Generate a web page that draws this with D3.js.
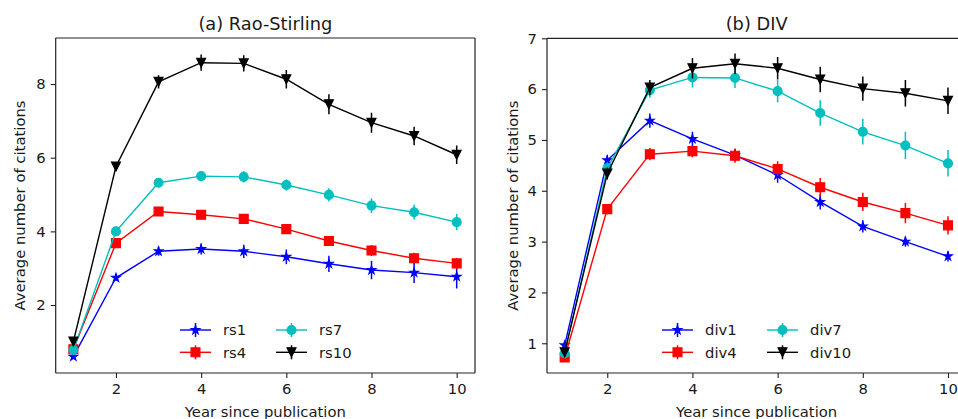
<!DOCTYPE html>
<html>
<head>
<meta charset="utf-8">
<script src="https://cdn.jsdelivr.net/npm/d3@7"></script>
<style>
  html, body { margin: 0; padding: 0; background: #fff; }
  svg { display: block; }
  text { font-family: "DejaVu Sans", sans-serif; fill: #1a1a1a; }
</style>
</head>
<body>
<svg id="chart" width="958" height="419"></svg>
<script>
// Years since publication (x values)
const years = [1, 2, 3, 4, 5, 6, 7, 8, 9, 10];

// Panel (a): Rao-Stirling groups — mean citations and error half-widths
const rs1 = [0.60, 2.74, 3.46, 3.52, 3.46, 3.31, 3.12, 2.95, 2.88, 2.77];
const rs1Err = [0.05, 0.08, 0.12, 0.15, 0.18, 0.2, 0.22, 0.25, 0.28, 0.32];
const rs4 = [0.80, 3.68, 4.54, 4.45, 4.34, 4.06, 3.74, 3.48, 3.27, 3.13];
const rs4Err = [0.05, 0.08, 0.1, 0.1, 0.12, 0.12, 0.13, 0.15, 0.15, 0.15];
const rs7 = [0.78, 4.00, 5.32, 5.50, 5.48, 5.26, 4.99, 4.70, 4.52, 4.25];
const rs7Err = [0.05, 0.08, 0.1, 0.12, 0.15, 0.15, 0.18, 0.2, 0.2, 0.22];
const rs10 = [1.01, 5.76, 8.06, 8.58, 8.56, 8.13, 7.45, 6.95, 6.59, 6.08];
const rs10Err = [0.1, 0.12, 0.18, 0.22, 0.22, 0.25, 0.27, 0.27, 0.25, 0.25];

// Panel (b): DIV groups
const div1 = [0.96, 4.60, 5.38, 5.02, 4.70, 4.31, 3.78, 3.30, 3.00, 2.71];
const div1Err = [0.08, 0.1, 0.14, 0.14, 0.12, 0.15, 0.15, 0.12, 0.1, 0.1];
const div4 = [0.72, 3.64, 4.72, 4.78, 4.69, 4.43, 4.07, 3.78, 3.56, 3.32];
const div4Err = [0.05, 0.1, 0.12, 0.12, 0.14, 0.15, 0.18, 0.18, 0.2, 0.18];
const div7 = [0.80, 4.44, 5.98, 6.23, 6.22, 5.96, 5.53, 5.16, 4.89, 4.54];
const div7Err = [0.05, 0.12, 0.15, 0.2, 0.2, 0.22, 0.25, 0.25, 0.27, 0.26];
const div10 = [0.82, 4.34, 6.03, 6.41, 6.50, 6.41, 6.19, 6.01, 5.92, 5.77];
const div10Err = [0.08, 0.12, 0.15, 0.2, 0.2, 0.22, 0.25, 0.24, 0.26, 0.26];

// Axis ticks
const xTicks = [2, 4, 6, 8, 10];
const yTicksA = [2, 4, 6, 8];
const yTicksB = [1, 2, 3, 4, 5, 6, 7];

// Series appearance
const colors = { s1: "#0000ff", s4: "#ff0000", s7: "#00bfbf", s10: "#000000" };
const shapes = { s1: "star", s4: "square", s7: "circle", s10: "tri_down" };

const panels = [
  {
    title: "(a) Rao-Stirling",
    left: 55.7, right: 475, top: 38, bottom: 373,
    xDomain: [0.585, 10.43], yDomain: [0.155, 9.25], yTicks: yTicksA,
    yLabelX: 25, rightSpine: true,
    legendX: 180, legendCol2: 276,
    series: [
      { key: "s1", name: "rs1", values: rs1, err: rs1Err },
      { key: "s4", name: "rs4", values: rs4, err: rs4Err },
      { key: "s7", name: "rs7", values: rs7, err: rs7Err },
      { key: "s10", name: "rs10", values: rs10, err: rs10Err }
    ]
  },
  {
    title: "(b) DIV",
    left: 547, right: 966.3, top: 38.3, bottom: 373,
    xDomain: [0.585, 10.43], yDomain: [0.415, 7.0], yTicks: yTicksB,
    yLabelX: 517.5, rightSpine: false,
    legendX: 662, legendCol2: 767,
    series: [
      { key: "s1", name: "div1", values: div1, err: div1Err },
      { key: "s4", name: "div4", values: div4, err: div4Err },
      { key: "s7", name: "div7", values: div7, err: div7Err },
      { key: "s10", name: "div10", values: div10, err: div10Err }
    ]
  }
];

const MS = 8.9;          // marker size (px)
const FONT = 14.8;       // label font size
const svg = d3.select("#chart");
svg.append("rect").attr("width", 958).attr("height", 419).attr("fill", "#fff");

function markerPath(shape, ms) {
  const r = ms / 2;
  if (shape === "square") {
    return `M${-r},${-r}H${r}V${r}H${-r}Z`;
  }
  if (shape === "circle") {
    return d3.symbol(d3.symbolCircle, Math.PI * r * r)();
  }
  if (shape === "tri_down") {
    return `M0,${r}L${-r},${-r}L${r},${-r}Z`;
  }
  // five-pointed star
  const inner = r * 0.381966;
  const pts = [];
  for (let i = 0; i < 10; i++) {
    const rad = i % 2 === 0 ? r : inner;
    const a = -Math.PI / 2 + i * Math.PI / 5;
    pts.push([rad * Math.cos(a), rad * Math.sin(a)]);
  }
  return "M" + pts.map(p => p[0].toFixed(2) + "," + p[1].toFixed(2)).join("L") + "Z";
}

panels.forEach(p => {
  const x = d3.scaleLinear().domain(p.xDomain).range([p.left, p.right]);
  const y = d3.scaleLinear().domain(p.yDomain).range([p.bottom, p.top]);
  const g = svg.append("g");

  // clip to the axes area
  const clipId = "clip-" + p.left.toFixed(0);
  svg.append("clipPath").attr("id", clipId)
    .append("rect").attr("x", p.left).attr("y", p.top)
    .attr("width", p.right - p.left).attr("height", p.bottom - p.top);

  const plot = g.append("g").attr("clip-path", `url(#${clipId})`);

  const line = d3.line().x((d, i) => x(years[i])).y(d => y(d));

  p.series.forEach(s => {
    const c = colors[s.key];
    const sg = plot.append("g");
    sg.append("path").datum(s.values)
      .attr("d", line).attr("fill", "none")
      .attr("stroke", c).attr("stroke-width", 1.4);
    sg.selectAll("line.err").data(s.values).enter().append("line")
      .attr("x1", (d, i) => x(years[i])).attr("x2", (d, i) => x(years[i]))
      .attr("y1", (d, i) => y(d - s.err[i])).attr("y2", (d, i) => y(d + s.err[i]))
      .attr("stroke", c).attr("stroke-width", 1.5);
    sg.selectAll("path.mk").data(s.values).enter().append("path")
      .attr("d", markerPath(shapes[s.key], MS))
      .attr("transform", (d, i) => `translate(${x(years[i])},${y(d)})`)
      .attr("fill", c).attr("stroke", c).attr("stroke-width", 1.2);
  });

  // axes
  const fmt = d3.format("d");
  const xAxis = d3.axisBottom(x).tickValues(xTicks).tickFormat(fmt)
    .tickSizeInner(5).tickSizeOuter(0).tickPadding(5);
  const yAxis = d3.axisLeft(y).tickValues(p.yTicks).tickFormat(fmt)
    .tickSizeInner(5).tickSizeOuter(0).tickPadding(5);
  const gx = g.append("g").attr("transform", `translate(0,${p.bottom})`).call(xAxis);
  const gy = g.append("g").attr("transform", `translate(${p.left},0)`).call(yAxis);
  [gx, gy].forEach(a => {
    a.select(".domain").remove();
    a.selectAll(".tick line").attr("stroke", "#222").attr("stroke-width", 1.1);
    a.selectAll(".tick text").attr("font-size", FONT).attr("fill", "#1a1a1a")
      .attr("font-family", "DejaVu Sans, sans-serif");
  });

  // spines
  const sp = g.append("g").attr("stroke", "#222").attr("stroke-width", 1.2).attr("fill", "none");
  sp.append("line").attr("x1", p.left).attr("x2", p.left).attr("y1", p.top).attr("y2", p.bottom);
  sp.append("line").attr("x1", p.left).attr("x2", p.right).attr("y1", p.bottom).attr("y2", p.bottom);
  sp.append("line").attr("x1", p.left).attr("x2", p.right).attr("y1", p.top).attr("y2", p.top);
  if (p.rightSpine) {
    sp.append("line").attr("x1", p.right).attr("x2", p.right).attr("y1", p.top).attr("y2", p.bottom);
  }

  // title and axis labels
  g.append("text").attr("x", (p.left + p.right) / 2).attr("y", 29.5)
    .attr("text-anchor", "middle").attr("font-size", 17.8).text(p.title);
  g.append("text").attr("x", (p.left + p.right) / 2).attr("y", 417)
    .attr("text-anchor", "middle").attr("font-size", FONT).text("Year since publication");
  g.append("text")
    .attr("transform", `translate(${p.yLabelX},${(p.top + p.bottom) / 2}) rotate(-90)`)
    .attr("text-anchor", "middle").attr("font-size", FONT).text("Average number of citations");

  // legend: two columns, two rows
  const rows = [330, 352.3];
  const cols = [p.legendX, p.legendCol2];
  [0, 1, 2, 3].forEach(idx => {
    const s = p.series[idx];
    const c = colors[s.key];
    const cx = cols[Math.floor(idx / 2)];
    const cy = rows[idx % 2];
    const lg = g.append("g");
    lg.append("line").attr("x1", cx).attr("x2", cx + 31).attr("y1", cy).attr("y2", cy)
      .attr("stroke", c).attr("stroke-width", 1.4);
    lg.append("line").attr("x1", cx + 15.5).attr("x2", cx + 15.5).attr("y1", cy - 7).attr("y2", cy + 7)
      .attr("stroke", c).attr("stroke-width", 1.5);
    lg.append("path").attr("d", markerPath(shapes[s.key], MS))
      .attr("transform", `translate(${cx + 15.5},${cy})`)
      .attr("fill", c).attr("stroke", c).attr("stroke-width", 1.2);
    lg.append("text").attr("x", cx + 43).attr("y", cy).attr("dy", "0.36em")
      .attr("font-size", FONT).text(s.name);
  });
});
</script>
</body>
</html>
